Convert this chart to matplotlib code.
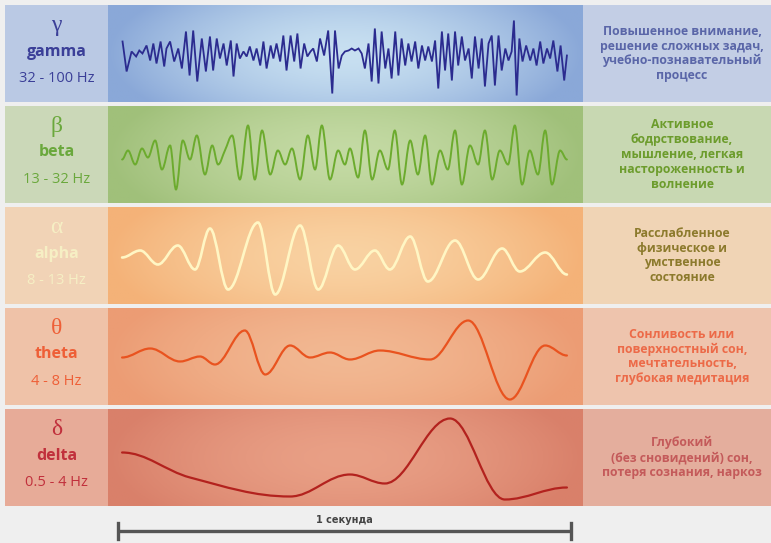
import numpy as np
import matplotlib.pyplot as plt
from matplotlib.path import Path
from matplotlib.patches import PathPatch, Rectangle

# ---------------- data (time in ms, amplitude in arbitrary units) ----------------
greek = ['γ', 'β', 'α', 'θ', 'δ']
names = ['gamma', 'beta', 'alpha', 'theta', 'delta']
bands = ['32 - 100 Hz', '13 - 32 Hz', '8 - 13 Hz', '4 - 8 Hz', '0.5 - 4 Hz']
notes = [
    'Повышенное внимание,\nрешение сложных задач,\nучебно-познавательный\nпроцесс',
    'Активное\nбодрствование,\nмышление, легкая\nнастороженность и\nволнение',
    'Расслабленное\nфизическое и\nумственное\nсостояние',
    'Сонливость или\nповерхностный сон,\nмечтательность,\nглубокая медитация',
    'Глубокий\n(без сновидений) сон,\nпотеря сознания, наркоз',
]
scale_label = '1 секунда'
scale_ms = 1000

gamma_t = [10, 19, 30, 40, 47, 54, 63, 71, 78, 85, 94, 102, 107, 115, 124, 133, 141, 150,
           158, 166, 175, 185, 194, 203, 210, 218, 225, 233, 240, 249, 255, 262, 269, 277,
           284, 291, 299, 306, 314, 321, 328, 337, 343, 350, 358, 365, 372, 381, 389, 396,
           403, 411, 418, 425, 431, 439, 446, 455, 464, 473, 479, 487, 494, 501, 509, 516,
           523, 531, 538, 545, 553, 560, 567, 575, 582, 590, 597, 604, 612, 619, 626, 634,
           641, 648, 656, 663, 671, 678, 685, 693, 700, 707, 715, 722, 729, 737, 744, 751,
           759, 766, 774, 781, 788, 796, 803, 810, 818, 825, 832, 840, 847, 855, 862, 869,
           874, 880, 886, 893, 901, 910, 917, 924, 932, 939, 947, 954, 961, 970, 977, 985, 991]
gamma_a = [12, -18, 2, -3, 3, 0, 8, -7, 10, -10, 12, -13, 5, 12, -8, 5, -15, 22,
           -22, 23, -28, 15, -18, 17, -17, 15, -5, 10, -12, 13, -23, 10, -5, 2,
           -3, 7, -7, 5, -12, 12, -15, 8, -5, 10, -8, 18, -17, 18, -8, 20,
           -15, 10, -3, 2, 5, -8, 15, -2, 23, -40, 23, -15, -2, 2, 3, 5,
           3, 5, 0, -15, 10, -28, 25, -30, 22, -15, 5, -25, 22, -22, 15, -12,
           10, -8, 12, -15, 8, -7, 7, -8, 13, -35, 22, -17, 20, -27, 22, -12,
           17, -7, 5, -25, 17, -15, 15, -33, 10, 18, -32, 18, -17, 5, -7, 2,
           33, -42, 15, -8, 8, -7, 5, -12, 12, -10, 5, -5, 13, -18, 8, -27, -2]

beta_t = [9, 22, 38, 53, 66, 82, 97, 115, 128, 143, 159, 174, 192, 208, 221, 236, 252, 269,
          287, 302, 318, 336, 353, 369, 384, 402, 419, 435, 450, 468, 486, 501, 512, 530,
          545, 561, 578, 596, 611, 627, 645, 662, 678, 693, 711, 728, 744, 759, 777, 795,
          810, 826, 843, 861, 876, 892, 909, 927, 943, 958, 976, 991]
beta_a = [-5, 4, -10, 6, -3, 14, -15, 9, -35, 14, -5, 19, -20, 9, -10, 4, 19, -25,
          29, -25, 24, -20, 4, -10, 6, -25, 19, -15, 29, -25, 4, -10, 6, -23,
          24, -25, 4, -15, 24, -30, 14, -20, 19, -30, 4, -15, 24, -30, 9, -10,
          24, -25, 4, -10, 29, -30, 4, -20, 24, -30, 4, -5]

alpha_t = [9, 49, 88, 132, 170, 203, 243, 309, 347, 402, 442, 486, 523, 567, 600, 645,
           684, 744, 795, 848, 887, 943, 991]
alpha_a = [-2, 5, -9, 10, -14, 27, -34, 33, -39, 30, -34, 10, -14, 5, -14, 19,
           -26, 15, -24, 7, -16, 3, -19]

theta_t = [9, 71, 137, 181, 214, 280, 325, 380, 424, 468, 512, 578, 689, 773, 865, 943, 991]
theta_a = [-1, 8, -5, 0, -8, 26, -18, 11, -1, 4, -3, 6, -3, 36, -43, 11, 1]

delta_t = [9, 159, 380, 512, 589, 733, 854, 991]
delta_a = [5, -20, -39, -17, -26, 39, -42, -30]

# ---------------- styling ----------------
W, H = 771, 543
row_top = [5, 106, 207, 308, 409]
row_h = 97
x_left, x_wave, x_right = 5, 108, 583
t0_px, t1_px = 118, 571   # pixel span of one second

left_col = ['#bac9e4', '#cbd8b8', '#f1d3b6', '#efc2a8', '#e7ab98']
right_col = ['#c3cee5', '#c8d8b2', '#f0d4b5', '#eec4ad', '#e4ae9d']
mid_col = ['#c8e0f1', '#c4daa4', '#f9d2a2', '#f2b892', '#e9a086']
edge_col = ['#8aa8d8', '#a0c07a', '#f4b278', '#ec9c74', '#d9806a']
wave_col = ['#2b2b8f', '#6cab2e', '#fff6c4', '#e9531f', '#b3221e']
wave_lw = [1.3, 1.4, 1.9, 1.6, 1.6]
name_col = ['#3b3f98', '#6aa83c', '#f6efc4', '#ee5f37', '#c1303c']
note_col = ['#5a66a8', '#6c9c2c', '#8c7a2c', '#ec6a48', '#c45a5a']

waves = [(gamma_t, gamma_a, False), (beta_t, beta_a, True), (alpha_t, alpha_a, True),
         (theta_t, theta_a, True), (delta_t, delta_a, True)]

sans = ['Open Sans', 'DejaVu Sans']


def hex2rgb(c):
    c = c.lstrip('#')
    return np.array([int(c[i:i + 2], 16) / 255 for i in (0, 2, 4)])


def smooth_path(t, a, k=0.36):
    t = np.asarray(t, float)
    a = np.asarray(a, float)
    n = len(t)
    slope = np.zeros(n)
    for i in range(1, n - 1):
        if (a[i] - a[i - 1]) * (a[i + 1] - a[i]) > 0:
            slope[i] = (a[i + 1] - a[i - 1]) / (t[i + 1] - t[i - 1])
    verts = [(t[0], a[0])]
    codes = [Path.MOVETO]
    for i in range(n - 1):
        dt = t[i + 1] - t[i]
        verts += [(t[i] + k * dt, a[i] + slope[i] * k * dt),
                  (t[i + 1] - k * dt, a[i + 1] - slope[i + 1] * k * dt),
                  (t[i + 1], a[i + 1])]
        codes += [Path.CURVE4] * 3
    return Path(verts, codes)


def px_axes(x, y, w, h):
    return fig.add_axes([x / W, 1 - (y + h) / H, w / W, h / H])


fig = plt.figure(figsize=(W / 100, H / 100), dpi=100)
fig.patch.set_facecolor('#efefef')

bg = px_axes(0, 0, W, H)
bg.set_xlim(0, W)
bg.set_ylim(H, 0)
bg.axis('off')

ms_per_px = scale_ms / (t1_px - t0_px)
xl = ((x_wave - t0_px) * ms_per_px, (x_right - t0_px) * ms_per_px)

for i in range(5):
    top = row_top[i]
    cy = top + row_h / 2
    bg.add_patch(Rectangle((x_left, top), x_wave - x_left, row_h, color=left_col[i], lw=0))
    bg.add_patch(Rectangle((x_right, top), W - x_right, row_h, color=right_col[i], lw=0))

    lx = (x_left + x_wave) / 2
    bg.text(lx, cy - 28, greek[i], ha='center', va='center', fontsize=17,
            family='Liberation Serif', color=name_col[i])
    bg.text(lx, cy - 2, names[i], ha='center', va='center', fontsize=11.5,
            family=sans, weight='bold', color=name_col[i])
    bg.text(lx, cy + 25, bands[i], ha='center', va='center', fontsize=10.5,
            family=sans, color=name_col[i])
    bg.text(682, cy, notes[i], ha='center', va='center', fontsize=8.8,
            family=sans, weight='bold', color=note_col[i], linespacing=1.18)

    ax = px_axes(x_wave, top, x_right - x_wave, row_h)
    ax.set_xlim(*xl)
    ax.set_ylim(-row_h / 2, row_h / 2)
    ax.axis('off')
    gx, gy = np.meshgrid(np.linspace(-1, 1, 300), np.linspace(-1, 1, 60))
    r = np.clip(np.sqrt(gx ** 2 + 0.3 * gy ** 2), 0, 1) ** 1.6
    img = (1 - r)[..., None] * hex2rgb(mid_col[i]) + r[..., None] * hex2rgb(edge_col[i])
    ax.imshow(img, extent=[xl[0], xl[1], -row_h / 2, row_h / 2], aspect='auto', zorder=0)

    t, a, smooth = waves[i]
    if smooth:
        ax.add_patch(PathPatch(smooth_path(t, a), fill=False, ec=wave_col[i],
                               lw=wave_lw[i], capstyle='round', zorder=2))
    else:
        ax.plot(t, a, color=wave_col[i], lw=wave_lw[i], solid_joinstyle='miter', zorder=2)

# scale bar: one second
sb = px_axes(x_wave, 510, x_right - x_wave, 33)
sb.set_xlim(*xl)
sb.set_ylim(33, 0)
sb.axis('off')
sb.plot([0, scale_ms], [21, 21], color='#555555', lw=2.4, solid_capstyle='butt')
sb.plot([0, 0], [13, 29], color='#555555', lw=2.4)
sb.plot([scale_ms, scale_ms], [13, 29], color='#555555', lw=2.4)
sb.text(scale_ms / 2, 10, scale_label, ha='center', va='center', fontsize=7,
        family='DejaVu Sans', weight='bold', color='#444444')

fig.savefig('out.png', dpi=100, facecolor=fig.get_facecolor())
